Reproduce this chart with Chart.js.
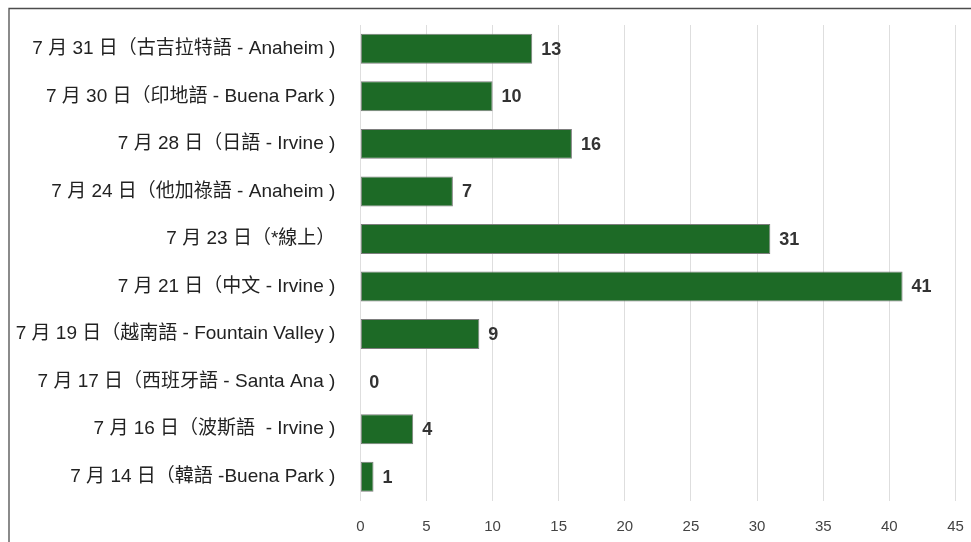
<!DOCTYPE html>
<html>
<head>
<meta charset="utf-8">
<script src="https://cdn.jsdelivr.net/npm/chart.js@4"></script>
<style>
  html, body { margin: 0; padding: 0; background: #fff; }
  #wrap { position: relative; width: 971px; height: 542px; }
  canvas { display: block; }
</style>
</head>
<body>
<div id="wrap"><canvas id="c" width="971" height="542"></canvas></div>
<script>
const categories = [
  "7 月 31 日（古吉拉特語 - Anaheim )",
  "7 月 30 日（印地語 - Buena Park )",
  "7 月 28 日（日語 - Irvine )",
  "7 月 24 日（他加祿語 - Anaheim )",
  "7 月 23 日（*線上）",
  "7 月 21 日（中文 - Irvine )",
  "7 月 19 日（越南語 - Fountain Valley )",
  "7 月 17 日（西班牙語 - Santa Ana )",
  "7 月 16 日（波斯語  - Irvine )",
  "7 月 14 日（韓語 -Buena Park )"
];
const values = [13, 10, 16, 7, 31, 41, 9, 0, 4, 1];
const xMin = 0;
const xMax = 45;
const xStep = 5;

const frame = {
  id: 'frame',
  beforeDraw(chart) {
    const c = chart.ctx;
    c.save();
    c.fillStyle = '#fff';
    c.fillRect(0, 0, chart.width, chart.height);
    c.strokeStyle = '#4d4d4d';
    c.lineWidth = 1.3;
    c.beginPath();
    c.moveTo(9, chart.height);
    c.lineTo(9, 8.5);
    c.lineTo(chart.width, 8.5);
    c.stroke();
    c.restore();
  }
};

const valueLabels = {
  id: 'valueLabels',
  afterDatasetsDraw(chart) {
    const c = chart.ctx;
    const meta = chart.getDatasetMeta(0);
    c.save();
    c.font = 'bold 18px "Liberation Sans", Arial, sans-serif';
    c.fillStyle = '#333';
    c.textAlign = 'left';
    c.textBaseline = 'middle';
    meta.data.forEach((bar, i) => {
      c.fillText(String(values[i]), bar.x + 9, bar.y + 1);
    });
    c.restore();
  }
};

new Chart(document.getElementById('c'), {
  type: 'bar',
  data: {
    labels: categories,
    datasets: [{
      data: values,
      backgroundColor: '#1d6a26',
      borderColor: '#7d7d7d',
      borderWidth: 1,
      borderSkipped: false,
      barPercentage: 0.63,
      categoryPercentage: 1
    }]
  },
  options: {
    indexAxis: 'y',
    responsive: false,
    animation: false,
    devicePixelRatio: 1,
    layout: { padding: { top: 25, right: 15.5, bottom: 0, left: 0 } },
    plugins: { legend: { display: false }, tooltip: { enabled: false } },
    scales: {
      x: {
        min: xMin, max: xMax,
        ticks: {
          stepSize: xStep,
          color: '#444',
          font: { family: '"Liberation Sans", Arial, sans-serif', size: 15 },
          padding: 17
        },
        grid: { color: '#dedede', drawTicks: false, lineWidth: 1 },
        border: { display: false },
        afterFit(s) { s.height = 41.5; s.paddingLeft = 0; s.paddingRight = 0; }
      },
      y: {
        ticks: {
          color: '#222',
          font: { family: '"Liberation Sans", Arial, "Noto Sans CJK TC", sans-serif', size: 19 },
          padding: 25,
          autoSkip: false
        },
        grid: { display: false, drawTicks: false },
        border: { display: false },
        afterFit(s) { s.width = 360.3; s.paddingTop = 0; s.paddingBottom = 0; }
      }
    }
  },
  plugins: [frame, valueLabels]
});
</script>
</body>
</html>
